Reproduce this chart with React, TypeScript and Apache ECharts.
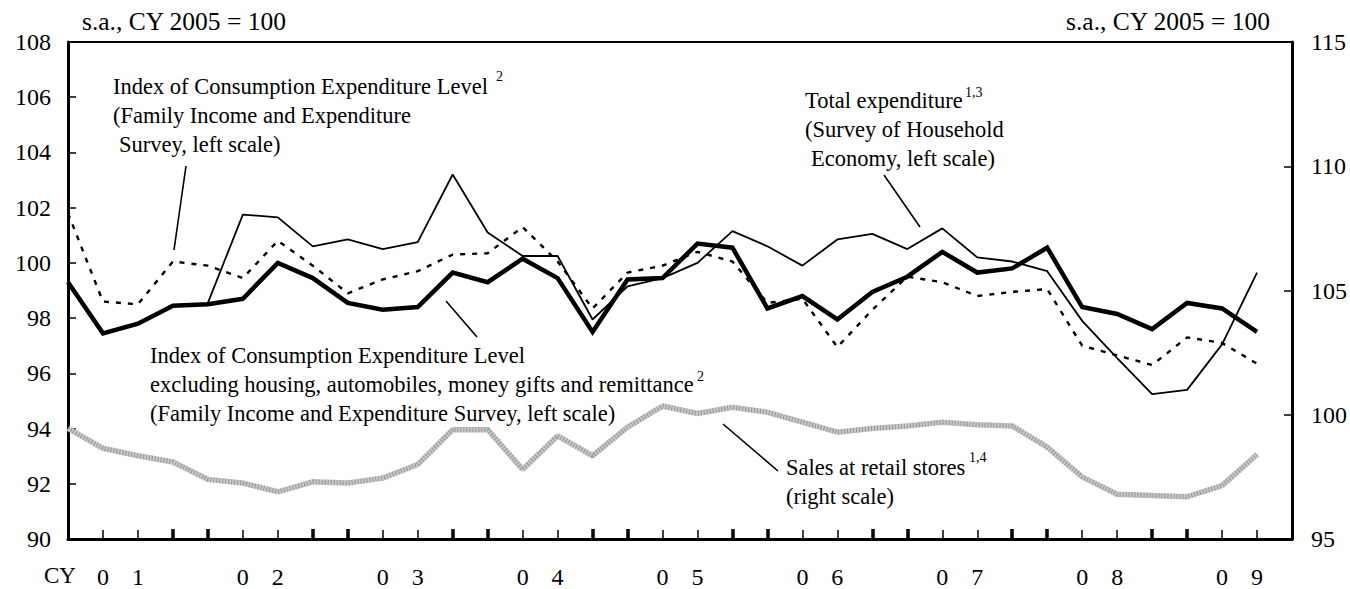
import React, { useEffect, useRef } from "react";
import * as echarts from "echarts";

const FONT = "Liberation Serif";

// Quarterly categories, 2001Q1 .. 2009Q3 (plus one empty slot closing the frame)
const quarters = [
  "2001Q1", "2001Q2", "2001Q3", "2001Q4",
  "2002Q1", "2002Q2", "2002Q3", "2002Q4",
  "2003Q1", "2003Q2", "2003Q3", "2003Q4",
  "2004Q1", "2004Q2", "2004Q3", "2004Q4",
  "2005Q1", "2005Q2", "2005Q3", "2005Q4",
  "2006Q1", "2006Q2", "2006Q3", "2006Q4",
  "2007Q1", "2007Q2", "2007Q3", "2007Q4",
  "2008Q1", "2008Q2", "2008Q3", "2008Q4",
  "2009Q1", "2009Q2", "2009Q3",
];
const yearLabels = ["01", "02", "03", "04", "05", "06", "07", "08", "09"];

// Index of Consumption Expenditure Level excl. housing etc. (left scale, thick line)
const iceExcl = [
  99.3, 97.45, 97.8, 98.45, 98.5, 98.7, 100.0, 99.45, 98.55, 98.3,
  98.4, 99.65, 99.3, 100.15, 99.45, 97.5, 99.4, 99.45, 100.7, 100.55,
  98.35, 98.8, 97.95, 98.95, 99.5, 100.4, 99.65, 99.8, 100.55, 98.4,
  98.15, 97.6, 98.55, 98.35, 97.5,
];
// Index of Consumption Expenditure Level (left scale, dotted line)
const iceLevel = [
  101.8, 98.6, 98.5, 100.05, 99.9, 99.45, 100.8, 99.9, 98.9, 99.4,
  99.7, 100.3, 100.35, 101.3, 100.05, 98.35, 99.65, 99.9, 100.4, 100.05,
  98.55, 98.7, 96.95, 98.3, 99.5, 99.3, 98.8, 98.95, 99.05, 97.0,
  96.65, 96.3, 97.3, 97.1, 96.35,
];
// Total expenditure, Survey of Household Economy (left scale, thin line)
const totalExp = [
  null, null, null, null, 98.55, 101.75, 101.65, 100.6, 100.85, 100.5,
  100.75, 103.2, 101.1, 100.25, 100.25, 97.95, 99.15, 99.45, 100.0, 101.15,
  100.6, 99.9, 100.85, 101.05, 100.5, 101.25, 100.2, 100.05, 99.7, 97.9,
  96.55, 95.25, 95.4, 97.05, 99.65,
];
// Sales at retail stores (right scale, grey line)
const retailSales = [
  99.45, 98.65, 98.35, 98.1, 97.4, 97.25, 96.9, 97.3, 97.25, 97.45,
  98.0, 99.4, 99.4, 97.8, 99.15, 98.35, 99.5, 100.35, 100.05, 100.3,
  100.1, 99.7, 99.3, 99.45, 99.55, 99.7, 99.6, 99.55, 98.7, 97.5,
  96.8, 96.75, 96.7, 97.15, 98.4,
];

const categories = [...quarters, ""];
const lastIdx = categories.length - 1;

function txt(x: number, y: number, text: string, size = 22, align = "left") {
  return {
    type: "text",
    x,
    y,
    silent: true,
    style: {
      text,
      fill: "#000",
      fontSize: size,
      fontFamily: FONT,
      align,
      verticalAlign: "middle",
      textAlign: align,
      textVerticalAlign: "middle",
    },
  };
}
function leader(x1: number, y1: number, x2: number, y2: number) {
  return {
    type: "line",
    silent: true,
    shape: { x1, y1, x2, y2 },
    style: { stroke: "#000", lineWidth: 1.6 },
  };
}

export default function App() {
  const ref = useRef<HTMLDivElement>(null);
  useEffect(() => {
    if (!ref.current) return;
    const chart = echarts.init(ref.current, undefined, { renderer: "svg" });
    const tickLabelStyle = { fontSize: 24, color: "#000", fontFamily: FONT };
    const xLabel = (_v: string, i: number) => {
      const k = Math.floor(i / 4);
      if (i >= lastIdx || k >= yearLabels.length) return "";
      if (i % 4 === 1) return yearLabels[k][0];
      if (i % 4 === 2) return yearLabels[k][1];
      return "";
    };
    chart.setOption({
      animation: false,
      backgroundColor: "#fff",
      textStyle: { fontFamily: FONT },
      grid: {
        left: 68,
        right: 58,
        top: 42,
        bottom: 50,
        show: true,
        borderColor: "#000",
        borderWidth: 2,
        containLabel: false,
      },
      xAxis: [
        {
          type: "category",
          data: categories,
          boundaryGap: false,
          position: "bottom",
          axisLine: { show: true, lineStyle: { color: "#000", width: 3 } },
          axisTick: {
            show: true,
            inside: true,
            length: 9,
            lineStyle: { color: "#000", width: 1.5 },
            interval: (i: number) => i > 0 && i < lastIdx && (i % 4 === 1 || i % 4 === 2),
          },
          axisLabel: { ...tickLabelStyle, interval: 0, margin: 26, formatter: xLabel },
          splitLine: { show: false },
        },
        {
          type: "category",
          data: categories,
          boundaryGap: false,
          position: "bottom",
          axisLine: { show: false },
          axisTick: {
            show: true,
            inside: true,
            length: 10,
            lineStyle: { color: "#000", width: 3.5 },
            interval: (i: number) => i > 0 && i < lastIdx && (i % 4 === 3 || i % 4 === 0),
          },
          axisLabel: { show: false },
          splitLine: { show: false },
        },
      ],
      yAxis: [
        {
          type: "value",
          min: 90,
          max: 108,
          interval: 2,
          position: "left",
          axisLine: { show: true, lineStyle: { color: "#000", width: 3 } },
          axisTick: { show: true, inside: true, length: 8, lineStyle: { color: "#000", width: 1.5 } },
          axisLabel: { ...tickLabelStyle, margin: 17 },
          splitLine: { show: false },
        },
        {
          type: "value",
          min: 95,
          max: 115,
          interval: 5,
          position: "right",
          axisLine: { show: true, lineStyle: { color: "#000", width: 3 } },
          axisTick: { show: true, inside: true, length: 8, lineStyle: { color: "#000", width: 1.5 } },
          axisLabel: { ...tickLabelStyle, margin: 19 },
          splitLine: { show: false },
        },
      ],
      series: [
        {
          name: "Sales at retail stores",
          type: "line",
          yAxisIndex: 1,
          data: retailSales,
          symbol: "none",
          z: 1,
          lineStyle: { color: "#c8c8c8", width: 5.5 },
        },
        {
          name: "Sales at retail stores texture",
          type: "line",
          yAxisIndex: 1,
          data: retailSales,
          symbol: "none",
          z: 2,
          lineStyle: { color: "#959595", width: 5, type: [1, 2] },
        },
        {
          name: "Index of Consumption Expenditure Level",
          type: "line",
          data: iceLevel,
          symbol: "none",
          z: 3,
          lineStyle: { color: "#000", width: 2.4, type: [5, 7] },
        },
        {
          name: "Total expenditure",
          type: "line",
          data: totalExp,
          symbol: "none",
          connectNulls: false,
          z: 4,
          lineStyle: { color: "#000", width: 1.8 },
        },
        {
          name: "Index excl. housing etc.",
          type: "line",
          data: iceExcl,
          symbol: "none",
          z: 5,
          lineStyle: { color: "#000", width: 4.5, join: "miter" },
        },
      ],
      graphic: [
        txt(82, 21, "s.a., CY 2005 = 100", 25.5),
        txt(1270, 21, "s.a., CY 2005 = 100", 25.5, "right"),
        txt(113, 86, "Index of Consumption Expenditure Level", 22.5),
        txt(496, 76, "2", 14),
        txt(113, 115, "(Family Income and Expenditure", 22.5),
        txt(119, 144, "Survey, left scale)", 22.5),
        leader(186, 166, 174, 250),
        txt(150, 355, "Index of Consumption Expenditure Level", 22.5),
        txt(150, 384, "excluding housing, automobiles, money gifts and remittance", 22.5),
        txt(697, 376, "2", 14),
        txt(150, 413, "(Family Income and Expenditure Survey, left scale)", 22.5),
        leader(446, 301, 477, 337),
        txt(805, 100, "Total expenditure", 22.5),
        txt(965, 92, "1,3", 14),
        txt(805, 129, "(Survey of Household", 22.5),
        txt(811, 158, "Economy, left scale)", 22.5),
        leader(884, 175, 920, 227),
        txt(786, 467, "Sales at retail stores", 22.5),
        txt(969, 457, "1,4", 14),
        txt(786, 496, "(right scale)", 22.5),
        leader(723, 424, 778, 471),
        txt(44, 575, "CY", 23),
      ],
    });
    return () => chart.dispose();
  }, []);
  return (
    <div
      ref={ref}
      style={{ position: "fixed", left: 0, top: 0, width: 1350, height: 589, background: "#fff" }}
    />
  );
}
